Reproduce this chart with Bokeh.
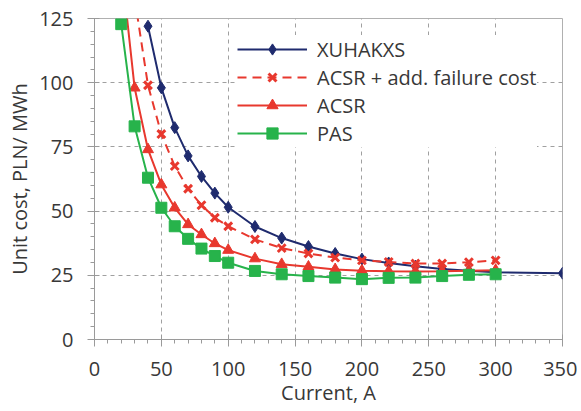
from bokeh.plotting import figure
from bokeh.models import Range1d, FixedTicker, Legend, LegendItem
from bokeh.embed import file_html
from bokeh.resources import INLINE

# ---- data ----
x_xuh = [40, 50, 60, 70, 80, 90, 100, 120, 140, 160, 180, 200, 220, 240, 260, 280, 300, 350]
y_xuh = [122, 98, 82.5, 71.5, 63.5, 57, 51.5, 44, 39.5, 36.2, 33.5, 31.3, 29.8, 28.5, 27.5, 26.8, 26.2, 25.8]

x_fail = [30, 40, 50, 60, 70, 80, 90, 100, 120, 140, 160, 180, 200, 220, 240, 260, 280, 300]
y_fail = [133, 99, 80, 67.5, 58.7, 52.3, 47.4, 44.1, 39, 35.6, 33.5, 31.9, 30.8, 30.2, 29.6, 29.6, 30.1, 30.8]

x_acsr = [20, 30, 40, 50, 60, 70, 80, 90, 100, 120, 140, 160, 180, 200, 220, 240, 260, 280, 300]
y_acsr = [146, 98, 74, 60.3, 51.3, 44.8, 40.9, 37.4, 34.8, 31.5, 29.3, 28.3, 27.3, 26.8, 26.6, 26.5, 26.6, 26.8, 27.0]

x_pas = [20, 30, 40, 50, 60, 70, 80, 90, 100, 120, 140, 160, 180, 200, 220, 240, 260, 280, 300]
y_pas = [122.8, 83, 63, 51.3, 44.1, 39.2, 35.4, 32.5, 29.9, 26.7, 25.4, 24.7, 24.1, 23.5, 24.0, 24.1, 24.7, 25.2, 25.4]

x_ticks = [0, 50, 100, 150, 200, 250, 300, 350]
y_ticks = [0, 25, 50, 75, 100, 125]

labels = ["XUHAKXS", "ACSR + add. failure cost", "ACSR", "PAS"]

NAVY = "#1f2b6e"
RED = "#e8382e"
GREEN = "#27b34b"
FONT = "Open Sans"
TXT = "#383838"

p = figure(width=577, height=408, output_backend="svg", toolbar_location=None,
           x_range=Range1d(0, 350), y_range=Range1d(0, 125),
           min_border_left=94, min_border_right=15, min_border_top=18, min_border_bottom=66)
p.outline_line_color = "#b0b0b0"
p.background_fill_color = "white"
p.border_fill_color = "white"

# axes
for ax in (p.xaxis[0], p.yaxis[0]):
    ax.axis_line_color = "#9a9a9a"
    ax.major_tick_line_color = "#9a9a9a"
    ax.minor_tick_line_color = "#9a9a9a"
    ax.major_tick_out = 7
    ax.major_tick_in = 5
    ax.minor_tick_out = 4
    ax.minor_tick_in = 0
    ax.major_label_text_font = FONT
    ax.major_label_text_font_size = "20px"
    ax.major_label_text_color = TXT
    ax.axis_label_text_font = FONT
    ax.axis_label_text_font_size = "20px"
    ax.axis_label_text_font_style = "normal"
    ax.axis_label_text_color = TXT

p.xaxis.ticker = FixedTicker(ticks=x_ticks, minor_ticks=list(range(0, 351, 10)))
p.yaxis.ticker = FixedTicker(ticks=y_ticks, minor_ticks=list(range(0, 126, 5)))
p.xaxis.axis_label = "Current, A"
p.yaxis.axis_label = "Unit cost, PLN/ MWh"
p.xaxis.major_label_standoff = 15
p.yaxis.major_label_standoff = 14
p.xaxis.axis_label_standoff = 0
p.yaxis.axis_label_standoff = 3

p.xgrid.grid_line_color = "#a0a0a0"
p.ygrid.grid_line_color = "#a0a0a0"
p.xgrid.grid_line_dash = "4 4"
p.ygrid.grid_line_dash = "4 4"
p.xgrid.ticker = FixedTicker(ticks=x_ticks[1:])
p.ygrid.ticker = FixedTicker(ticks=y_ticks[1:])

# series
l1 = p.line(x_xuh, y_xuh, line_color=NAVY, line_width=2)
m1 = p.scatter(x_xuh, y_xuh, marker="diamond", size=12, fill_color=NAVY, line_color=NAVY)

l2 = p.line(x_fail, y_fail, line_color=RED, line_width=2, line_dash="9 6")
m2 = p.scatter(x_fail, y_fail, marker="x", size=11, line_color=RED, line_width=3)

l3 = p.line(x_acsr, y_acsr, line_color=RED, line_width=2)
m3 = p.scatter(x_acsr, y_acsr, marker="triangle", size=11, fill_color=RED, line_color=RED)

l4 = p.line(x_pas, y_pas, line_color=GREEN, line_width=2)
m4 = p.scatter(x_pas, y_pas, marker="square", size=11, fill_color=GREEN, line_color=GREEN)

legend = Legend(items=[
    LegendItem(label=labels[0], renderers=[l1, m1]),
    LegendItem(label=labels[1], renderers=[l2, m2]),
    LegendItem(label=labels[2], renderers=[l3, m3]),
    LegendItem(label=labels[3], renderers=[l4, m4]),
], location=(143, 192), orientation="vertical")
legend.border_line_color = None
legend.background_fill_color = "white"
legend.background_fill_alpha = 1.0
legend.padding = 4
legend.margin = 0
legend.spacing = 0
legend.glyph_width = 70
legend.glyph_height = 28
legend.label_height = 28
legend.label_standoff = 10
legend.label_text_font = FONT
legend.label_text_font_size = "20px"
legend.label_text_color = TXT
p.add_layout(legend, "center")

open("out.html", "w").write(file_html(p, INLINE))
